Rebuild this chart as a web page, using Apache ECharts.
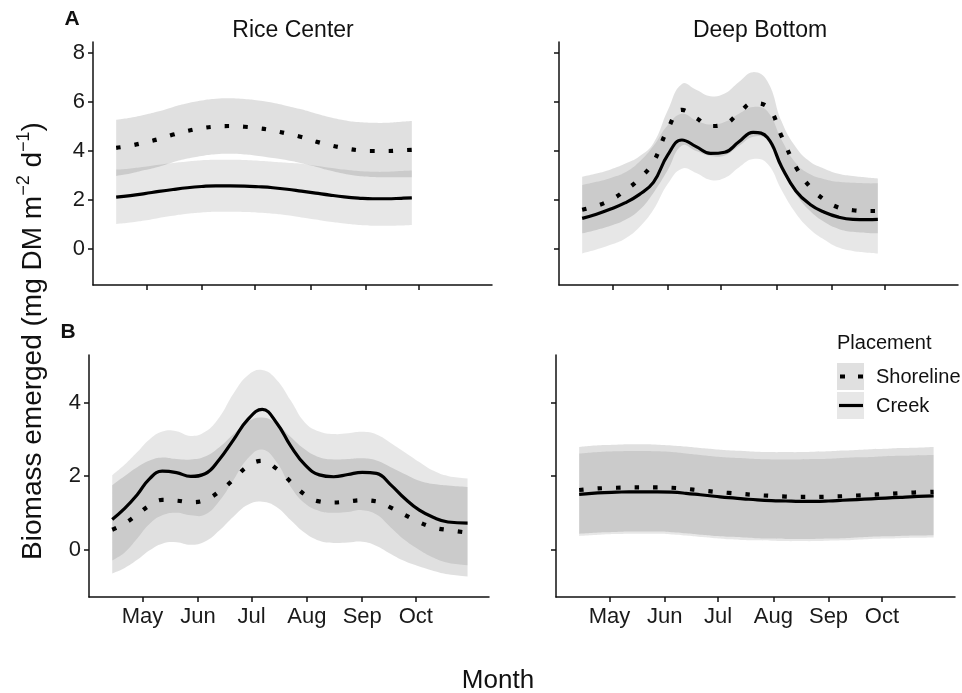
<!DOCTYPE html>
<html><head><meta charset="utf-8">
<script src="https://cdn.jsdelivr.net/npm/echarts@6/dist/echarts.min.js"></script>
<style>html,body{margin:0;padding:0;background:#fff}#c{width:962px;height:693px}</style>
</head><body><div id="c"></div>
<script>
// ---- axis ticks ----
const monthTicks = [30, 61, 91, 122, 153, 183];       // days after Apr 1
const monthLabels = ['May', 'Jun', 'Jul', 'Aug', 'Sep', 'Oct'];
const yTicksTop = [0, 2, 4, 6, 8];
const yTicksBottom = [0, 2, 4];

// ---- sampling days (days after Apr 1) ----
const daysTop = [13,21,29,37,45,53,61,69,77,85,93,101,109,117,125,133,141,149,157,165,173,179];
const daysBottom = [13,20,27,34,41,49,57,65,73,81,89,97,105,113,121,129,137,145,153,161,169,177,185,193,201,212];

// ---- A: Rice Center ----
const riceA_shore   = [4.13,4.22,4.35,4.49,4.67,4.82,4.93,5.00,5.02,4.99,4.93,4.84,4.71,4.57,4.39,4.24,4.12,4.03,4.00,4.00,4.03,4.05];
const riceA_shoreHi = [5.28,5.36,5.48,5.62,5.80,5.95,6.06,6.13,6.15,6.12,6.06,5.97,5.84,5.70,5.53,5.38,5.26,5.18,5.15,5.15,5.19,5.22];
const riceA_shoreLo = [2.98,3.08,3.22,3.36,3.54,3.69,3.80,3.87,3.89,3.86,3.80,3.71,3.62,3.50,3.36,3.20,3.07,2.98,2.94,2.93,2.93,2.93];
const riceA_creek   = [2.12,2.18,2.26,2.35,2.43,2.50,2.55,2.58,2.58,2.57,2.54,2.50,2.44,2.36,2.28,2.20,2.13,2.08,2.05,2.05,2.07,2.09];
const riceA_creekHi = [3.24,3.29,3.36,3.44,3.51,3.57,3.62,3.64,3.64,3.63,3.60,3.56,3.52,3.48,3.40,3.32,3.24,3.18,3.15,3.15,3.18,3.20];
const riceA_creekLo = [1.02,1.08,1.16,1.27,1.36,1.44,1.49,1.52,1.52,1.51,1.48,1.44,1.38,1.29,1.20,1.11,1.04,0.98,0.95,0.95,0.96,0.98];

// ---- A: Deep Bottom ----
const deepA_shore   = [1.60,1.76,2.00,2.38,2.86,3.55,4.88,5.68,5.35,5.02,5.10,5.55,5.95,5.80,4.60,3.35,2.53,2.01,1.69,1.58,1.55,1.55];
const deepA_shoreHi = [2.95,3.08,3.25,3.48,3.78,4.32,5.65,6.74,6.50,6.24,6.35,6.82,7.22,6.85,5.20,4.15,3.56,3.28,3.07,2.98,2.92,2.88];
const deepA_shoreLo = [0.64,0.78,0.95,1.18,1.58,2.29,3.21,4.22,4.00,3.80,3.82,4.20,4.58,4.45,3.30,2.25,1.55,1.10,0.82,0.70,0.65,0.64];
const deepA_creek   = [1.25,1.42,1.63,1.88,2.22,2.72,3.83,4.45,4.18,3.90,3.95,4.38,4.76,4.55,3.35,2.37,1.82,1.50,1.30,1.21,1.20,1.21];
const deepA_creekHi = [2.61,2.74,2.90,3.12,3.55,4.20,5.05,5.52,5.25,5.08,5.18,5.52,5.80,5.62,4.45,3.50,3.05,2.85,2.74,2.70,2.68,2.68];
const deepA_creekLo = [-0.18,-0.02,0.17,0.42,0.88,1.60,2.65,3.28,3.10,2.82,2.90,3.33,3.67,3.48,2.40,1.45,0.80,0.38,0.06,-0.08,-0.15,-0.18];

// ---- B: Rice Center ----
const riceB_shore   = [0.54,0.71,0.95,1.20,1.35,1.33,1.29,1.35,1.58,1.91,2.27,2.41,2.20,1.84,1.49,1.31,1.28,1.31,1.34,1.31,1.14,0.94,0.74,0.60,0.53,0.46];
const riceB_shoreHi = [1.75,2.00,2.24,2.42,2.50,2.46,2.45,2.53,2.78,3.14,3.48,3.59,3.43,3.06,2.72,2.51,2.45,2.46,2.48,2.42,2.24,2.05,1.87,1.78,1.74,1.70];
const riceB_shoreLo = [-0.65,-0.50,-0.28,-0.02,0.16,0.20,0.13,0.22,0.52,0.90,1.22,1.30,1.16,0.80,0.45,0.24,0.18,0.19,0.21,0.10,-0.12,-0.32,-0.46,-0.58,-0.67,-0.73];
const riceB_creek   = [0.82,1.12,1.49,1.93,2.13,2.09,1.99,2.06,2.45,2.99,3.54,3.81,3.45,2.81,2.30,2.03,1.98,2.04,2.10,2.07,1.76,1.38,1.07,0.87,0.75,0.72];
const riceB_creekHi = [2.02,2.31,2.65,3.00,3.21,3.22,3.09,3.20,3.60,4.25,4.74,4.88,4.62,4.05,3.45,3.21,3.14,3.16,3.20,3.13,2.90,2.64,2.38,2.14,2.00,1.93];
const riceB_creekLo = [-0.30,-0.08,0.30,0.70,0.93,1.00,0.93,0.95,1.32,1.90,2.48,2.72,2.38,1.70,1.25,1.05,1.00,1.02,1.07,0.95,0.60,0.25,-0.01,-0.22,-0.36,-0.43];

// ---- B: Deep Bottom ----
const deepB_shore   = [1.62,1.65,1.67,1.68,1.69,1.69,1.69,1.68,1.65,1.61,1.57,1.54,1.51,1.48,1.46,1.44,1.43,1.43,1.44,1.45,1.47,1.49,1.51,1.53,1.55,1.57];
const deepB_shoreHi = [2.79,2.82,2.84,2.85,2.86,2.86,2.85,2.83,2.80,2.76,2.73,2.70,2.68,2.66,2.65,2.65,2.65,2.66,2.67,2.69,2.71,2.73,2.74,2.76,2.77,2.79];
const deepB_shoreLo = [0.43,0.45,0.47,0.48,0.49,0.49,0.49,0.47,0.44,0.40,0.37,0.35,0.33,0.31,0.30,0.29,0.29,0.29,0.30,0.31,0.33,0.35,0.36,0.37,0.38,0.39];
const deepB_creek   = [1.50,1.53,1.55,1.56,1.57,1.57,1.57,1.56,1.53,1.49,1.45,1.41,1.38,1.35,1.33,1.32,1.31,1.31,1.32,1.34,1.36,1.38,1.40,1.42,1.44,1.46];
const deepB_creekHi = [2.61,2.64,2.66,2.67,2.68,2.68,2.67,2.65,2.61,2.57,2.53,2.50,2.48,2.46,2.45,2.45,2.45,2.46,2.47,2.49,2.51,2.52,2.54,2.55,2.56,2.57];
const deepB_creekLo = [0.37,0.39,0.41,0.42,0.43,0.43,0.43,0.41,0.38,0.34,0.31,0.28,0.26,0.25,0.24,0.23,0.23,0.23,0.24,0.25,0.27,0.29,0.30,0.31,0.32,0.33];

// ---- styling ----
const FONT = '"Liberation Sans", Arial, Helvetica, sans-serif';
const SHORE_FILL = 'rgba(0,0,0,0.12)';
const CREEK_FILL = 'rgba(0,0,0,0.095)';
const SM = 0.45;

const panels = [
  { days: daysTop, s: riceA_shore, sHi: riceA_shoreHi, sLo: riceA_shoreLo, c: riceA_creek, cHi: riceA_creekHi, cLo: riceA_creekLo },
  { days: daysTop, s: deepA_shore, sHi: deepA_shoreHi, sLo: deepA_shoreLo, c: deepA_creek, cHi: deepA_creekHi, cLo: deepA_creekLo },
  { days: daysBottom, s: riceB_shore, sHi: riceB_shoreHi, sLo: riceB_shoreLo, c: riceB_creek, cHi: riceB_creekHi, cLo: riceB_creekLo },
  { days: daysBottom, s: deepB_shore, sHi: deepB_shoreHi, sLo: deepB_shoreLo, c: deepB_creek, cHi: deepB_creekHi, cLo: deepB_creekLo }
];
const gridBoxes = [
  { left: 93, top: 42, width: 399, height: 243 },
  { left: 559, top: 42, width: 399, height: 243 },
  { left: 89, top: 355, width: 400, height: 242 },
  { left: 556, top: 355, width: 399, height: 242 }
];
const yRanges = [[-1.47, 8.45], [-1.47, 8.45], [-1.29, 5.29], [-1.29, 5.29]];

function zip(d, v) { return d.map((x, i) => [x, v[i]]); }

// Confidence band: one smooth polygon through the library's coordinate system
function bandSeries(i, days, lo, hi, fill) {
  const rows = days.map((d, k) => [d, lo[k], hi[k]]);
  return {
    type: 'custom', xAxisIndex: i, yAxisIndex: i, silent: true, z: 1,
    data: rows, encode: { x: 0, y: [1, 2] },
    renderItem: function (params, api) {
      if (params.dataIndex !== 0) return null;
      const up = rows.map(r => api.coord([r[0], r[2]]));
      const dn = rows.map(r => api.coord([r[0], r[1]])).reverse();
      const pts = [];
      up.forEach((p, k) => { pts.push(p); if (k === 0 || k === up.length - 1) pts.push(p.slice()); });
      dn.forEach((p, k) => { pts.push(p); if (k === 0 || k === dn.length - 1) pts.push(p.slice()); });
      return { type: 'polygon', shape: { points: pts, smooth: SM }, style: { fill: fill, stroke: null } };
    }
  };
}

const series = [];
panels.forEach((p, i) => {
  series.push(bandSeries(i, p.days, p.sLo, p.sHi, SHORE_FILL));
  series.push(bandSeries(i, p.days, p.cLo, p.cHi, CREEK_FILL));
  series.push({ type: 'line', name: 'Creek', xAxisIndex: i, yAxisIndex: i, data: zip(p.days, p.c),
    smooth: SM, symbol: 'none', silent: true, z: 3,
    lineStyle: { color: '#000', width: 3.2, cap: 'butt' } });
  series.push({ type: 'line', name: 'Shoreline', xAxisIndex: i, yAxisIndex: i, data: zip(p.days, p.s),
    smooth: SM, symbol: 'none', silent: true, z: 4,
    lineStyle: { color: '#000', width: 4.2, type: [4.5, 14], cap: 'butt' } });
});

const axLine = { show: true, onZero: false, lineStyle: { color: '#111', width: 1.5 } };
const xAxis = gridBoxes.map((g, i) => ({
  gridIndex: i, type: 'value', min: 0, max: 224,
  axisLine: axLine,
  axisTick: { show: true, customValues: monthTicks, length: 5, lineStyle: { color: '#111', width: 1.5 } },
  axisLabel: { show: i >= 2, customValues: monthTicks, fontSize: 22, color: '#1a1a1a', fontFamily: FONT, margin: 9,
    formatter: v => { let b = 0; monthTicks.forEach((t, k) => { if (Math.abs(t - v) < Math.abs(monthTicks[b] - v)) b = k; }); return monthLabels[b]; } },
  splitLine: { show: false }
}));
const yAxis = gridBoxes.map((g, i) => {
  const ticks = i < 2 ? yTicksTop : yTicksBottom;
  return {
    gridIndex: i, type: 'value', min: yRanges[i][0], max: yRanges[i][1],
    axisLine: axLine,
    axisTick: { show: true, customValues: ticks, length: 5, lineStyle: { color: '#111', width: 1.5 } },
    axisLabel: { show: i % 2 === 0, customValues: ticks, fontSize: 22, color: '#1a1a1a', fontFamily: FONT, margin: 8 },
    splitLine: { show: false }
  };
});

function txt(x, y, text, size, opts) {
  opts = opts || {};
  return { type: 'text', x: x, y: y, rotation: opts.rot || 0, silent: true,
    style: { text: text, fill: '#111', font: (opts.bold ? 'bold ' : '') + size + 'px ' + FONT,
      fontSize: size, fontFamily: FONT, fontWeight: opts.bold ? 'bold' : 'normal',
      align: opts.align || 'center', textAlign: opts.align || 'center',
      verticalAlign: 'middle', textVerticalAlign: 'middle',
      rich: opts.rich, lineHeight: opts.lh } };
}

const graphic = [
  txt(293, 31, 'Rice Center', 23),
  txt(760, 31, 'Deep Bottom', 23),
  txt(72, 19, 'A', 21, { bold: true }),
  txt(68, 332, 'B', 21, { bold: true }),
  txt(498, 681, 'Month', 26),
  txt(33, 341, 'Biomass emerged (mg DM m{sup|\u22122} d{sup|\u22121})', 28, { rot: Math.PI / 2, lh: 36,
    rich: { sup: { fontSize: 18, fontFamily: FONT, verticalAlign: 'top', lineHeight: 36, fill: '#111' } } }),
  // legend
  txt(837, 343, 'Placement', 20, { align: 'left' }),
  { type: 'rect', silent: true, shape: { x: 837, y: 363, width: 27, height: 27 }, style: { fill: SHORE_FILL } },
  { type: 'rect', silent: true, shape: { x: 837, y: 392, width: 27, height: 27 }, style: { fill: CREEK_FILL } },
  { type: 'line', silent: true, shape: { x1: 840, y1: 376.5, x2: 864, y2: 376.5 },
    style: { stroke: '#000', lineWidth: 4.2, lineDash: [5, 13], lineCap: 'butt' } },
  { type: 'line', silent: true, shape: { x1: 839, y1: 405.5, x2: 863, y2: 405.5 },
    style: { stroke: '#000', lineWidth: 3.2, lineCap: 'butt' } },
  txt(876, 377, 'Shoreline', 20, { align: 'left' }),
  txt(876, 406, 'Creek', 20, { align: 'left' })
];

const chart = echarts.init(document.getElementById('c'), null, { renderer: 'canvas' });
chart.setOption({
  animation: false,
  backgroundColor: '#fff',
  textStyle: { fontFamily: FONT },
  grid: gridBoxes.map(g => Object.assign({ containLabel: false, outerBoundsMode: 'none' }, g)),
  xAxis: xAxis,
  yAxis: yAxis,
  series: series,
  graphic: graphic
});
</script>
</body></html>
